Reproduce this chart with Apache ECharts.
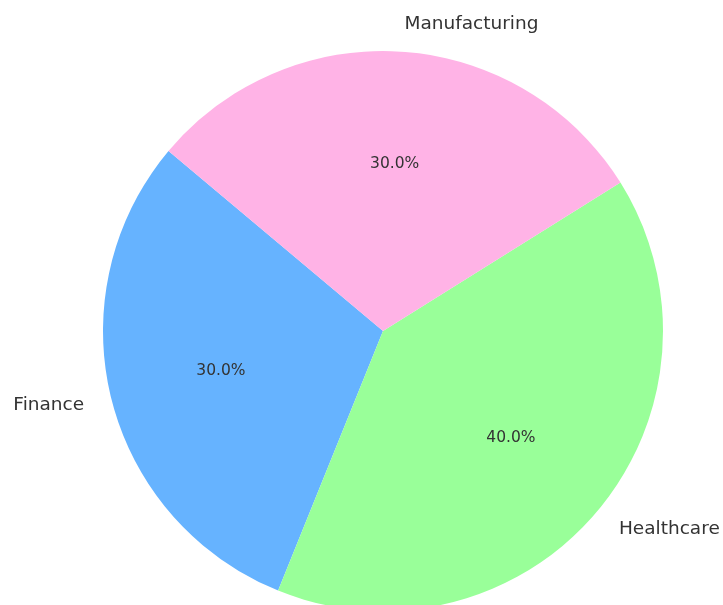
<!DOCTYPE html>
<html>
<head>
<meta charset="utf-8">
<script src="https://cdn.jsdelivr.net/npm/echarts@6/dist/echarts.min.js"></script>
<style>
html,body{margin:0;padding:0;background:#fff;}
#chart{width:723px;height:605px;}
</style>
</head>
<body>
<div id="chart"></div>
<script>
const categories = ['Finance', 'Healthcare', 'Manufacturing'];
const values = [30, 40, 30];
const colors = ['#66b3ff', '#99ff99', '#ffb3e6'];

const data = categories.map((c, i) => ({ name: c, value: values[i], itemStyle: { color: colors[i] } }));
const ghostData = categories.map((c, i) => ({ name: c, value: values[i] }));

const chart = echarts.init(document.getElementById('chart'), null, { renderer: 'canvas' });
const FONT = 'DejaVu Sans';
chart.setOption({
  animation: false,
  backgroundColor: '#ffffff',
  series: [
    {
      type: 'pie',
      center: [383, 331],
      radius: [0, 280],
      startAngle: 140,
      clockwise: false,
      avoidLabelOverlap: false,
      silent: true,
      data: data,
      itemStyle: { borderWidth: 0 },
      label: {
        show: true,
        position: 'outside',
        formatter: '{b}',
        fontFamily: FONT,
        fontSize: 18.5,
        color: '#333333',
        distanceToLabelLine: 0
      },
      labelLine: { show: false, length: 28, length2: 0 },
      emphasis: { disabled: true }
    },
    {
      type: 'pie',
      center: [383, 331],
      radius: [0, 328],
      startAngle: 140,
      clockwise: false,
      avoidLabelOverlap: false,
      silent: true,
      data: ghostData,
      itemStyle: { color: 'rgba(0,0,0,0)', borderWidth: 0 },
      label: {
        show: true,
        position: 'inside',
        formatter: p => p.percent.toFixed(1) + '%',
        fontFamily: FONT,
        fontSize: 15.5,
        color: '#333333'
      },
      labelLine: { show: false },
      emphasis: { disabled: true }
    }
  ]
});
</script>
</body>
</html>
